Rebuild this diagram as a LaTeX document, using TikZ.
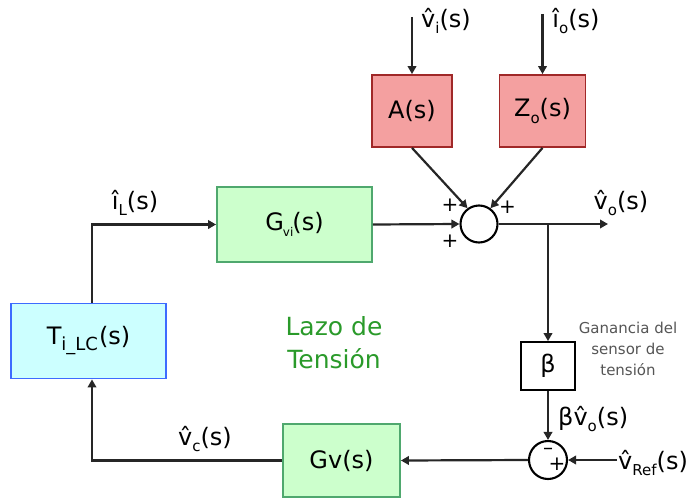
\documentclass[tikz,border=0pt]{standalone}
\usepackage{fontspec}
\setmainfont{DejaVu Sans}
\usetikzlibrary{arrows.meta}
\definecolor{lc}{HTML}{262626}
\definecolor{cyanfill}{HTML}{CCFFFF}
\definecolor{cyanline}{HTML}{3D6BFF}
\definecolor{greenfill}{HTML}{CCFFCC}
\definecolor{greenline}{HTML}{4FA86E}
\definecolor{redfill}{HTML}{F4A0A0}
\definecolor{redline}{HTML}{A02828}
\definecolor{lazo}{HTML}{2A9A2A}
\definecolor{note}{HTML}{555555}
\newcommand\lsub[1]{\raisebox{-0.25em}{\fontsize{15}{15}\selectfont #1}}
\newcommand\bigf{\fontsize{24}{28}\selectfont}
\tikzset{
  blk/.style={draw, line width=1.8pt, inner sep=0pt, font=\bigf},
  cyanblk/.style={blk, draw=cyanline, fill=cyanfill},
  greenblk/.style={blk, draw=greenline, fill=greenfill},
  redblk/.style={blk, draw=redline, fill=redfill},
  whiteblk/.style={blk, draw=black, fill=white},
  sumc/.style={circle, draw=black, line width=2.1pt, inner sep=0pt, fill=white},
  arr/.style={draw=lc, line width=2.2pt, -{Triangle[length=8pt,width=8.5pt]}},
  lbl/.style={font=\bigf, inner sep=0pt},
  sgn/.style={font=\fontsize{20}{20}\selectfont, inner sep=0pt},
}
\begin{document}
\begin{tikzpicture}[x=1pt,y=-1pt]
\useasboundingbox (0,0) rectangle (700,500);
% blocks
\node[cyanblk, minimum width=155pt, minimum height=75pt] (T) at (88.5,341) {T\lsub{\fontsize{18}{18}\selectfont i\_LC}\kern1pt(s)};
\node[greenblk, minimum width=155pt, minimum height=75pt] (Gvi) at (294.5,224.5) {G\kern-1pt\lsub{\fontsize{12}{12}\selectfont vi}\kern-1pt(s)};
\node[redblk, minimum width=80pt, minimum height=72pt] (A) at (412,111) {A(s)};
\node[redblk, minimum width=86pt, minimum height=72pt] (Zo) at (542.5,111) {Z\lsub{o}(s)};
\node[whiteblk, minimum width=54pt, minimum height=48pt] (beta) at (548,366) {β};
\node[greenblk, minimum width=117pt, minimum height=73pt] (Gv) at (341.5,460.5) {Gv(s)};
\node[sumc, minimum size=37pt] (s1) at (479,224) {};
\node[sumc, minimum size=38pt] (s2) at (548,460) {};
% coordinates
\coordinate (vi) at (412,17);
\coordinate (io) at (542.5,14);
\coordinate (vout) at (608,224);
\coordinate (br) at (548,224);
\coordinate (vref) at (617,460);
% connectors
\draw[arr] (vi) -- (A.north);
\draw[arr] (io) -- (Zo.north);
\draw[arr] (A.south) -- (s1.126);
\draw[arr] (Zo.south) -- (s1.54);
\draw[arr] (Gvi.east) -- (s1.west);
\draw[arr] (s1.east) -- (vout);
\draw[arr] (br) -- (beta.north);
\draw[arr] (beta.south) -- (s2.north);
\draw[arr] (vref) -- (s2.east);
\draw[arr] (s2.west) -- (Gv.east);
\draw[arr] (Gv.west) -| ([xshift=3.5pt]T.south);
\draw[arr] ([xshift=3.5pt]T.north) |- (Gvi.west);
% signs
\node[sgn] (p1) at (450,205) {+};
\node[sgn] (p2) at (507.5,207) {+};
\node[sgn] (p3) at (450,241) {+};
\node[sgn] (m1) at (548,451) {–};
\node[sgn] (p4) at (557,464) {+};
% labels
\node[lbl] (Lvi) at (446,21) {v̂\lsub{i}(s)};
\node[lbl] (Lio) at (576,21) {î\lsub{o}(s)};
\node[lbl] (Lvo) at (621,203) {v̂\lsub{o}(s)};
\node[lbl] (LiL) at (135,203) {î\lsub{L}(s)};
\node[lbl] (Lvc) at (205,439) {v̂\lsub{c}(s)};
\node[lbl, anchor=west] (Lbvo) at (558,419) {βv̂\lsub{o}(s)};
\node[lbl, anchor=west] (Lvref) at (618,463) {v̂\lsub{Ref}(s)};
\node[font=\fontsize{15}{21}\selectfont, text=note, align=center, inner sep=0pt] (note) at (628,349) {Ganancia del\\sensor de\\tensión};
\node[font=\fontsize{25}{33}\selectfont, text=lazo, align=center, inner sep=0pt] (lazo) at (334,343) {Lazo de\\Tensión};
\end{tikzpicture}
\end{document}
